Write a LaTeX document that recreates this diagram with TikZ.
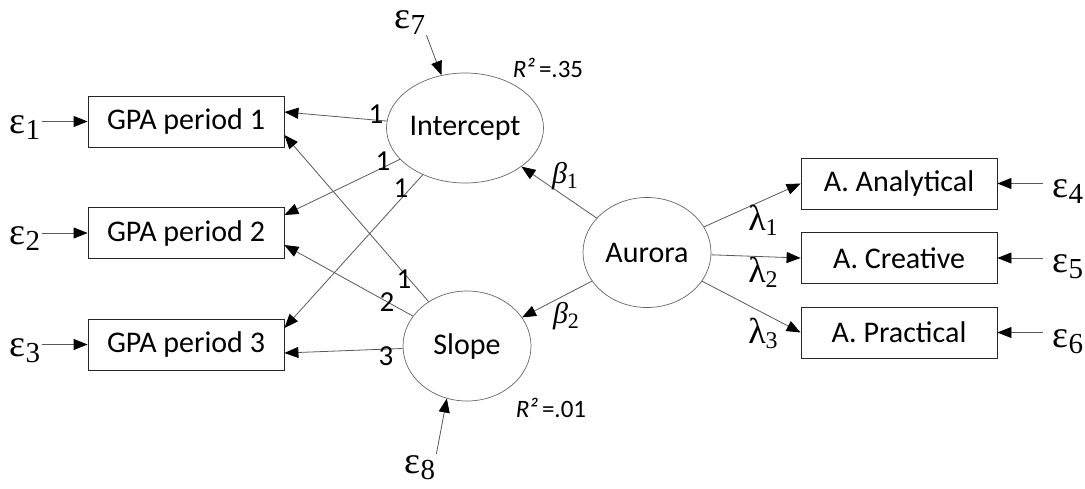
\documentclass[tikz,border=0pt]{standalone}
\usepackage{fontspec}
\setmainfont{Carlito}
\newfontfamily\grk{Liberation Serif}
\usetikzlibrary{arrows.meta,shapes.geometric}
\newcommand\myeps[1]{{\grk\fontsize{38}{38}\selectfont\raisebox{0pt}[18pt][0pt]{ε}\raisebox{-6pt}[13pt][6pt]{\fontsize{29}{29}\selectfont #1}}}
\newcommand\mylam[1]{{\grk\fontsize{36}{36}\selectfont λ\raisebox{-5pt}{\fontsize{24}{24}\selectfont #1}}}
\newcommand\mybeta[1]{{\grk\fontsize{30}{30}\selectfont\itshape β\upshape\raisebox{-5pt}{\fontsize{22}{22}\selectfont #1}}}
\begin{document}
\begin{tikzpicture}[x=1pt,y=-1pt,
  box/.style={draw=black!85, line width=0.8pt, minimum width=196pt, minimum height=51pt, inner sep=0pt, font=\fontsize{30}{32}\selectfont},
  lat/.style={draw=black!60, ellipse, line width=0.7pt, minimum width=128pt, minimum height=110pt, inner sep=0pt, font=\fontsize{30}{32}\selectfont},
  arr/.style={draw=black!65, line width=0.8pt, -{Triangle[length=14pt,width=11pt,color=black]}},
  lbl/.style={inner sep=0pt, font=\fontsize{29}{29}\selectfont},
  epsn/.style={inner sep=1pt},
  rsq/.style={inner sep=0pt, font=\fontsize{25}{25}\selectfont},
]
\useasboundingbox (0,0) rectangle (1085,488);
% observed
\node[box] (g1) at (186,121.5) {GPA period 1};
\node[box] (g2) at (186,233) {GPA period 2};
\node[box] (g3) at (186,344.5) {GPA period 3};
\node[box] (a1) at (899,183.5) {A. Analytical};
\node[box] (a2) at (899,258) {A. Creative};
\node[box] (a3) at (899,332.5) {A. Practical};
% latent
\node[lat] (int) at (465,128) {Intercept};
\node[lat] (slo) at (467,346) {Slope};
\node[lat] (aur) at (647,252.5) {Aurora};
% errors
\node[epsn] (e1) at (25,127) {\myeps{1}};
\node[epsn] (e2) at (25,238) {\myeps{2}};
\node[epsn] (e3) at (25,350) {\myeps{3}};
\node[epsn] (e4) at (1068,191) {\myeps{4}};
\node[epsn] (e5) at (1068,266) {\myeps{5}};
\node[epsn] (e6) at (1068,341) {\myeps{6}};
\node[epsn] (e7) at (410,22) {\myeps{7}};
\node[epsn] (e8) at (420,467) {\myeps{8}};
\draw[arr, shorten <=1pt] (e1.east |- g1.west) -- (g1.west);
\draw[arr, shorten <=1pt] (e2.east |- g2.west) -- (g2.west);
\draw[arr, shorten <=1pt] (e3.east |- g3.west) -- (g3.west);
\draw[arr, shorten <=9pt] (e4.west |- a1.east) -- (a1.east);
\draw[arr, shorten <=9pt] (e5.west |- a2.east) -- (a2.east);
\draw[arr, shorten <=9pt] (e6.west |- a3.east) -- (a3.east);
\draw[arr] (e7.south east) -- (int.114);
\draw[arr] (e8.north east) -- (slo.249);
% growth loadings
\draw[arr] (int) -- ([yshift=9.5pt]g1.east);
\draw[arr] (int) -- ([yshift=18pt]g2.west -| g2.east);
\draw[arr] (int) -- ([yshift=16.5pt]g3.east);
\draw[arr] (slo) -- ([yshift=-13.5pt]g1.east);
\draw[arr] (slo) -- ([yshift=-12pt]g2.east);
\draw[arr] (slo) -- ([yshift=-8.5pt]g3.east);
\node[lbl] (l1) at (376,114) {1};
\node[lbl] (l2) at (383,161) {1};
\node[lbl] (l3) at (401,188) {1};
\node[lbl] (l4) at (404,279) {1};
\node[lbl] (l5) at (387,302) {2};
\node[lbl] (l6) at (386,356) {3};
% structural
\draw[arr] (aur) -- (int);
\draw[arr] (aur) -- (slo);
\draw[arr] (aur) -- (a1.west);
\draw[arr] (aur) -- (a2.west);
\draw[arr] (aur) -- (a3.west);
\node[inner sep=0pt] (b1) at (565,176) {\mybeta{1}};
\node[inner sep=0pt] (b2) at (566,316) {\mybeta{2}};
\node[inner sep=0pt] (m1) at (763,220) {\mylam{1}};
\node[inner sep=0pt] (m2) at (763,272) {\mylam{2}};
\node[inner sep=0pt] (m3) at (763,333) {\mylam{3}};
\node[rsq] (r1) at (548,68) {\textit{R²}\,=.35};
\node[rsq] (r2) at (551,408) {\textit{R²}\,=.01};
\end{tikzpicture}
\end{document}
